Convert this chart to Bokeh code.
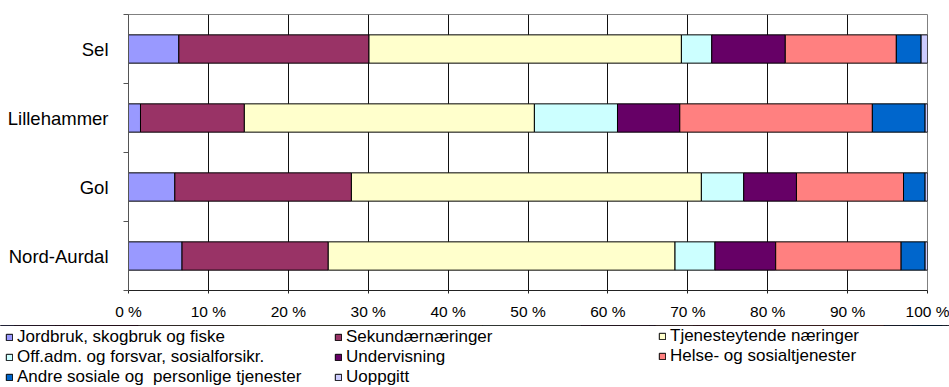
from bokeh.plotting import figure
from bokeh.layouts import column
from bokeh.models import (ColumnDataSource, Range1d, FixedTicker, PrintfTickFormatter,
                          Legend, LegendItem)
from bokeh.embed import file_html
from bokeh.resources import INLINE

# Municipalities, top to bottom
categories = ["Sel", "Lillehammer", "Gol", "Nord-Aurdal"]

# Share of employed persons by sector (percent), one list per sector,
# values in the same order as `categories`
jordbruk = [6.3, 1.5, 5.8, 6.7]
sekundaer = [23.8, 13.0, 22.1, 18.3]
tjenesteytende = [39.1, 36.3, 43.8, 43.4]
offadm = [3.8, 10.4, 5.3, 5.0]
undervisning = [9.2, 7.8, 6.6, 7.6]
helse = [13.9, 24.1, 13.4, 15.7]
andre = [3.1, 6.6, 2.7, 3.0]
uoppgitt = [0.8, 0.3, 0.3, 0.3]

series_names = [
    "Jordbruk, skogbruk og fiske",
    "Sekundærnæringer",
    "Tjenesteytende næringer",
    "Off.adm. og forsvar, sosialforsikr.",
    "Undervisning",
    "Helse- og sosialtjenester",
    "Andre sosiale og  personlige tjenester",
    "Uoppgitt",
]
series_values = [jordbruk, sekundaer, tjenesteytende, offadm,
                 undervisning, helse, andre, uoppgitt]
colors = ["#9999FF", "#993366", "#FFFFCC", "#CCFFFF",
          "#660066", "#FF8080", "#0066CC", "#CCCCFF"]

x_ticks = list(range(0, 101, 10))

FONT = "Liberation Sans"
W = 949
CHART_H = 325
LEGEND_H = 62

n = len(categories)
ypos = [n - i for i in range(n)]  # Sel at top
keys = [f"s{i}" for i in range(len(series_names))]
data = {"y": ypos}
for k, vals in zip(keys, series_values):
    data[k] = vals
source = ColumnDataSource(data)

p = figure(width=W, height=CHART_H, output_backend="svg", toolbar_location=None,
           x_range=Range1d(0, 100), y_range=Range1d(0.5, n + 0.5),
           min_border_left=128, min_border_right=22,
           min_border_top=14, min_border_bottom=35)
p.frame_align = False
p.background_fill_color = "white"
p.border_fill_color = "white"
p.outline_line_color = "#808080"
p.outline_line_width = 1

p.hbar_stack(keys, y="y", height=0.41, color=colors, source=source,
             line_color="black", line_width=1)

# x axis
p.xaxis.ticker = FixedTicker(ticks=x_ticks)
p.xaxis.formatter = PrintfTickFormatter(format="%d %%")
p.xaxis.axis_line_color = "#222222"
p.xaxis.major_tick_line_color = "#222222"
p.xaxis.major_tick_out = 3
p.xaxis.major_tick_in = 0
p.xaxis.minor_tick_line_color = None
p.xaxis.major_label_standoff = 9
p.xaxis.major_label_text_font = FONT
p.xaxis.major_label_text_font_size = "15.5px"
p.xaxis.major_label_text_color = "black"

# y axis: labels at bar centres, ticks at category boundaries
p.yaxis.ticker = FixedTicker(ticks=ypos,
                             minor_ticks=[i + 0.5 for i in range(n + 1)])
p.yaxis.major_label_overrides = {y: c for y, c in zip(ypos, categories)}
p.yaxis.major_tick_line_color = None
p.yaxis.major_tick_out = 0
p.yaxis.major_tick_in = 0
p.yaxis.minor_tick_line_color = "#555555"
p.yaxis.minor_tick_out = 5
p.yaxis.minor_tick_in = 0
p.yaxis.axis_line_color = "#555555"
p.yaxis.major_label_standoff = 15
p.yaxis.major_label_text_font = FONT
p.yaxis.major_label_text_font_size = "18.5px"
p.yaxis.major_label_text_color = "black"

# vertical gridlines only
p.xgrid.ticker = FixedTicker(ticks=x_ticks[1:-1])
p.xgrid.grid_line_color = "#111111"
p.xgrid.grid_line_width = 1
p.ygrid.grid_line_color = None

# legend strip below the chart, three columns; the stacked bars here sit
# outside the visible range and only supply the legend swatches
lg = figure(width=W, height=LEGEND_H, output_backend="svg", toolbar_location=None,
            x_range=Range1d(0, 100), y_range=Range1d(-10, -9),
            x_axis_location=None, y_axis_location=None,
            min_border=0, min_border_left=0, min_border_right=0,
            min_border_top=0, min_border_bottom=0)
lg.frame_align = False
lg.outline_line_color = None
lg.grid.grid_line_color = None
swatches = lg.hbar_stack(keys, y="y", height=0.41, color=colors, source=source,
                         line_color="black", line_width=1)

ITEM = 20.5     # rendered height of one legend row at 17px
TOP = 0         # top of the legend block, from the top of the strip
columns = [[0, 3, 6], [1, 4, 7], [2, 5]]
col_x = [5, 334, 658]
for cx, idxs in zip(col_x, columns):
    h = len(idxs) * ITEM
    items = [LegendItem(label=series_names[i], renderers=[swatches[i]]) for i in idxs]
    leg = Legend(items=items, location=(cx, LEGEND_H - TOP - h),
                 orientation="vertical",
                 glyph_width=8, glyph_height=8, label_standoff=4,
                 label_height=14, spacing=0, padding=0, margin=0,
                 border_line_color=None, background_fill_alpha=0,
                 label_text_font=FONT, label_text_font_size="17px",
                 label_text_color="black")
    lg.add_layout(leg, "center")

layout = column(p, lg, spacing=0)
open("out.html", "w").write(file_html(layout, INLINE))
